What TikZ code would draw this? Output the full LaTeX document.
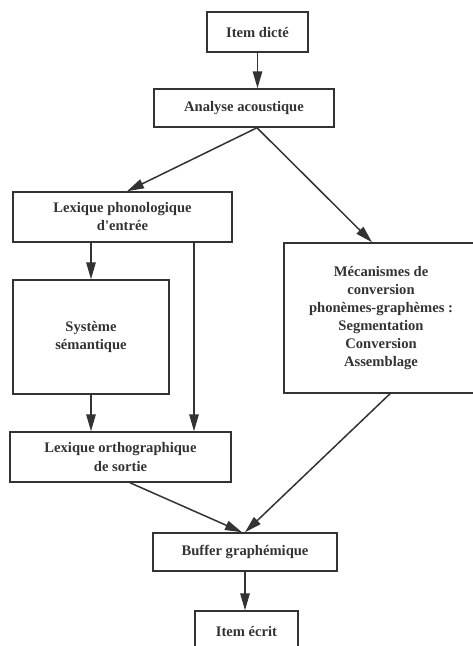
\documentclass[tikz,border=0pt]{standalone}
\usepackage{fontspec}
\setmainfont{Liberation Serif}
\usetikzlibrary{arrows.meta}
\definecolor{ink}{HTML}{333333}
\begin{document}
\begin{tikzpicture}[x=1pt,y=-1pt,
  box/.style={draw=ink, line width=1.5pt, text=ink, inner sep=0pt, align=center,
    font=\fontsize{14.6}{18}\selectfont\bfseries},
  arr/.style={draw=ink, line width=1.5pt, -{Triangle[length=17pt,width=9.5pt]}}]
\useasboundingbox (0,0) rectangle (473,646);
\clip (0,0) rectangle (473,646);
\node[box, minimum width=101pt, minimum height=40pt] (dicte) at (257.5,32) {Item dicté};
\node[box, minimum width=180pt, minimum height=38pt] (acou) at (244,108) {Analyse acoustique};
\node[box, minimum width=219pt, minimum height=50pt] (lphon) at (122.5,217) {Lexique phonologique\\d\textquotesingle entrée};
\node[box, minimum width=156pt, minimum height=114pt] (sem) at (91,337) {Système\\sémantique};
\node[box, minimum width=194pt, minimum height=150pt] (meca) at (381,318) {Mécanismes de\\conversion\\phonèmes-graphèmes :\\Segmentation\\Conversion\\Assemblage};
\node[box, minimum width=221pt, minimum height=50pt] (lortho) at (120.5,457) {Lexique orthographique\\de sortie};
\node[box, minimum width=184pt, minimum height=38pt] (buf) at (245,552) {Buffer graphémique};
\node[box, minimum width=103pt, minimum height=40pt] (ecrit) at (246.5,631) {Item écrit};
\coordinate (v) at (194,0);
\draw[arr] (dicte.south) -- (dicte.south |- acou.north);
\draw[arr] ([xshift=13pt]acou.south) -- ([xshift=4.5pt]lphon.north);
\draw[arr] ([xshift=13pt]acou.south) -- ([xshift=-9pt]meca.north);
\draw[arr] (sem.north |- lphon.south) -- (sem.north);
\draw[arr] (sem.south) -- (sem.south |- lortho.north);
\draw[arr] (lphon.south -| v) -- (lortho.north -| v);
\draw[arr] ([xshift=9.5pt]lortho.south) -- ([xshift=-3pt]buf.north);
\draw[arr] ([xshift=9pt]meca.south) -- (buf.north);
\draw[arr] (buf.south) -- (buf.south |- ecrit.north);
\end{tikzpicture}
\end{document}
